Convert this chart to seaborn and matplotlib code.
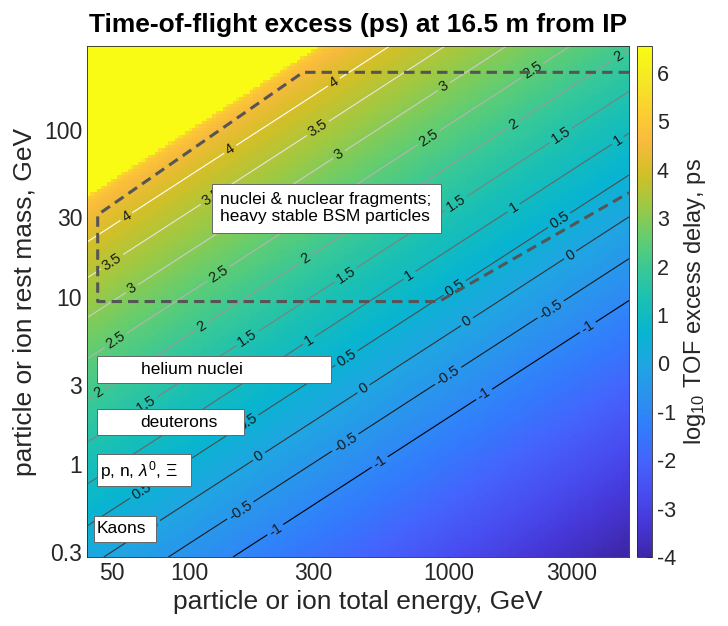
import numpy as np
import matplotlib
matplotlib.use("Agg")
import matplotlib.pyplot as plt
from matplotlib.patches import Rectangle
import seaborn as sns

# Physics setup: excess flight time of a massive particle vs. light over 16.5 m
distance_m = 16.5
c_m_per_ps = 2.99792458e-4
energy_range = [40, 5000]      # GeV
mass_range = [0.28, 316]       # GeV
n_energy, n_mass = 160, 150

contour_levels = [-1, -0.5, 0, 0.5, 1, 1.5, 2, 2.5, 3, 3.5, 4]
color_limits = [-4, 6.56]

x_ticks = [50, 100, 300, 1000, 3000]
y_ticks = [0.3, 1, 3, 10, 30, 100]
cbar_ticks = [-4, -3, -2, -1, 0, 1, 2, 3, 4, 5, 6]

# dashed outline of the "nuclei & fragments" region (E, m)
region_E = [5000, 274, 44, 44, 920, 5000]
region_m = [220, 220, 31, 9.4, 9.4, 42]

# where the contour labels sit (E, m)
label_E = [143, 56.7, 359,
           49.5, 314,
           59.3, 119, 375, 959,
           130, 51.8, 839, 2123,
           283, 112, 44.7, 1795, 4540,
           405, 166, 67.8, 1069, 2735,
           292, 714, 1795, 4540,
           405, 166, 65.6, 1069, 2686,
           187, 73, 469, 1186, 2993,
           405, 160, 1004, 2535,
           217, 546, 1383, 3500]
label_m = [76.8, 30.4, 194,
           16.7, 101,
           11.4, 41.6, 71.8, 181,
           13.6, 5.48, 89.5, 222,
           16.7, 6.6, 2.65, 108, 273,
           13.3, 5.77, 2.31, 36.3, 91.6,
           5.38, 13.2, 33.9, 85.5,
           4.28, 1.81, 0.679, 11.1, 28.8,
           1.09, 0.434, 2.84, 7.05, 17.4,
           1.31, 0.506, 3.34, 8.07,
           0.394, 1.02, 2.59, 6.43]

# annotation boxes (axes fraction): text, box x0, x1, y0, y1, text x, text y
box_texts = ["nuclei & nuclear fragments;\nheavy stable BSM particles",
             "helium nuclei", "deuterons", r"p, n, $\lambda^0$, $\Xi$", "Kaons"]
box_x0 = [0.231, 0.019, 0.019, 0.019, 0.012]
box_x1 = [0.653, 0.450, 0.290, 0.191, 0.127]
box_y0 = [0.634, 0.341, 0.239, 0.139, 0.029]
box_y1 = [0.730, 0.393, 0.290, 0.202, 0.080]
text_x = [0.245, 0.100, 0.098, 0.024, 0.018]
text_y = [0.683, 0.367, 0.264, 0.170, 0.055]

# MATLAB parula colormap anchors
parula = [(0.2422, 0.1504, 0.6603), (0.2706, 0.2147, 0.8364), (0.2813, 0.3006, 0.9414),
          (0.2699, 0.3892, 0.9906), (0.1963, 0.4847, 0.9892), (0.1687, 0.5703, 0.9359),
          (0.1248, 0.6459, 0.8883), (0.0297, 0.7082, 0.8163), (0.0964, 0.7500, 0.7120),
          (0.2161, 0.7843, 0.5923), (0.3909, 0.8029, 0.4354), (0.6174, 0.7876, 0.2612),
          (0.8203, 0.7498, 0.1535), (0.9728, 0.7298, 0.2394), (0.9892, 0.8136, 0.1885),
          (0.9597, 0.9135, 0.1423), (0.9769, 0.9839, 0.0805)]


def log_tof_excess(E, m):
    with np.errstate(invalid="ignore", divide="ignore"):
        p = np.sqrt(E ** 2 - m ** 2)
        dt = distance_m / c_m_per_ps * m ** 2 / ((E + p) * p)
        return np.log10(dt)


sns.set_theme(style="ticks")
plt.rcParams["font.family"] = ["Liberation Sans", "DejaVu Sans"]
plt.rcParams["mathtext.fontset"] = "custom"
plt.rcParams["mathtext.rm"] = "Liberation Sans"
plt.rcParams["mathtext.it"] = "Liberation Sans:italic"
plt.rcParams["axes.unicode_minus"] = False

cmap = sns.blend_palette(parula, n_colors=256, as_cmap=True)
cmap.set_over(parula[-1])
line_colors = sns.blend_palette(["black", "white"], n_colors=len(contour_levels))

fig = plt.figure(figsize=(7.28, 6.26), dpi=100)
ax = fig.add_axes([87 / 728, 1 - 557 / 626, 542 / 728, 511 / 626])

# coarse image
e_edges = np.logspace(np.log10(energy_range[0]), np.log10(energy_range[1]), n_energy + 1)
m_edges = np.logspace(np.log10(mass_range[0]), np.log10(mass_range[1]), n_mass + 1)
e_mid = np.sqrt(e_edges[:-1] * e_edges[1:])
m_mid = np.sqrt(m_edges[:-1] * m_edges[1:])
E, M = np.meshgrid(e_mid, m_mid)
Z = log_tof_excess(E, M)
Z[M >= E] = color_limits[1] + 1
mesh = ax.pcolormesh(e_edges, m_edges, Z, cmap=cmap, vmin=color_limits[0],
                     vmax=color_limits[1], shading="flat", rasterized=True)

ax.set_xscale("log")
ax.set_yscale("log")
ax.set_xlim(energy_range)
ax.set_ylim(mass_range)

# contour lines on a finer grid
e_fine = np.logspace(np.log10(energy_range[0]), np.log10(energy_range[1]), 500)
m_fine = np.logspace(np.log10(mass_range[0]), np.log10(mass_range[1]), 500)
Ef, Mf = np.meshgrid(e_fine, m_fine)
Zf = log_tof_excess(Ef, Mf)
Zf[Mf >= Ef] = np.nan
cs = ax.contour(Ef, Mf, Zf, levels=contour_levels, colors=line_colors, linewidths=0.8)
ax.clabel(cs, fmt=lambda v: f"{v:g}", manual=list(zip(label_E, label_m)),
          fontsize=10.5, colors="k", inline=True, inline_spacing=3)

ax.plot(region_E, region_m, color="#555555", lw=2.2, ls=(0, (3.4, 2.0)), zorder=4)

for txt, x0, x1, y0, y1, tx, ty in zip(box_texts, box_x0, box_x1, box_y0, box_y1, text_x, text_y):
    ax.add_patch(Rectangle((x0, y0), x1 - x0, y1 - y0, transform=ax.transAxes,
                           facecolor="white", edgecolor="#666666", lw=0.7, zorder=5))
    ax.text(tx, ty, txt, transform=ax.transAxes, ha="left", va="center",
            fontsize=12.5, color="black", zorder=6, linespacing=1.15)

ax.set_xticks(x_ticks)
ax.set_xticklabels([f"{v:g}" for v in x_ticks])
ax.set_yticks(y_ticks)
ax.set_yticklabels([f"{v:g}" for v in y_ticks])
ax.minorticks_off()
ax.tick_params(direction="in", length=4, width=0.6, colors="#262626", labelsize=16.5,
               top=True, right=True, labelcolor="#262626")
for sp in ax.spines.values():
    sp.set_color("#262626")
    sp.set_linewidth(0.6)

ax.set_xlabel("particle or ion total energy, GeV", fontsize=19, color="#262626")
ax.set_ylabel("particle or ion rest mass, GeV", fontsize=19, color="#262626", labelpad=5)
ax.set_title("Time-of-flight excess (ps) at 16.5 m from IP", fontsize=19,
             fontweight="bold", pad=10, color="black")

cax = fig.add_axes([637 / 728, 1 - 557 / 626, 15 / 728, 511 / 626])
cbar = fig.colorbar(mesh, cax=cax, ticks=cbar_ticks)
cbar.outline.set_edgecolor("#262626")
cbar.outline.set_linewidth(0.6)
cax.tick_params(direction="in", length=4, width=0.6, labelsize=15.5, colors="#262626")
cbar.set_label(r"$\mathregular{log_{10}}$ TOF excess delay, ps", fontsize=17, color="#262626")

fig.savefig("out.png", dpi=100)
